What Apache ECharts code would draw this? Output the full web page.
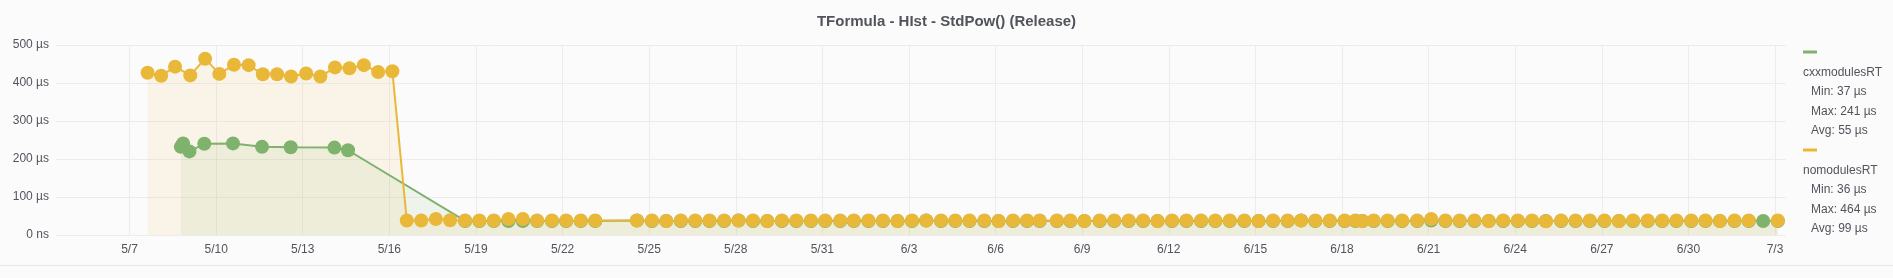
<!DOCTYPE html>
<html>
<head>
<meta charset="utf-8">
<script src="https://cdn.jsdelivr.net/npm/echarts@6/dist/echarts.min.js"></script>
<style>
  html, body { margin: 0; padding: 0; background: #fbfbfb; }
  #chart { width: 1893px; height: 278px; }
</style>
</head>
<body>
<div id="chart"></div>
<script>
// tick labels on the x axis (every 3 days)
var tickLabels = ['5/7', '5/10', '5/13', '5/16', '5/19', '5/22', '5/25', '5/28', '5/31', '6/3', '6/6', '6/9',
  '6/12', '6/15', '6/18', '6/21', '6/24', '6/27', '6/30', '7/3'];

// cxxmodulesRT
var cxxTimes = [
  '5/8 18:40', '5/8 20:30', '5/9 01:50', '5/9 14:10', '5/10 14:00', '5/11 14:10', '5/12 14:00', '5/14 02:20', '5/14 13:40',
  '5/18 15:00', '5/19 02:50', '5/19 14:50', '5/20 03:00', '5/20 15:00', '5/21 02:50', '5/21 15:10', '5/22 03:00', '5/22 15:10', '5/23 03:10',
  '5/24 13:50', '5/25 02:20', '5/25 14:10', '5/26 02:20', '5/26 14:20', '5/27 02:10', '5/27 14:20', '5/28 02:20', '5/28 14:20', '5/29 02:10', '5/29 14:20', '5/30 02:20', '5/30 14:30', '5/31 02:20', '5/31 14:50',
  '6/1 02:10', '6/1 14:20', '6/2 02:20', '6/2 14:30', '6/3 02:30', '6/3 14:20', '6/4 02:40', '6/4 14:30', '6/5 02:20', '6/5 14:40', '6/6 02:30', '6/6 14:30', '6/7 02:10', '6/7 12:40', '6/8 03:00', '6/8 14:10', '6/9 01:50',
  '6/9 14:30', '6/10 02:40', '6/10 14:40', '6/11 02:40', '6/11 14:40', '6/12 02:40', '6/12 14:40', '6/13 02:50', '6/13 14:40', '6/14 02:40', '6/14 14:50', '6/15 02:40', '6/15 14:40', '6/16 02:50', '6/16 14:00', '6/17 01:50',
  '6/17 13:50', '6/18 02:10', '6/18 11:10', '6/18 17:00', '6/19 02:20', '6/19 14:00', '6/20 02:00', '6/20 14:30', '6/21 02:10', '6/21 14:00', '6/22 01:50', '6/22 14:10', '6/23 02:00', '6/23 14:00', '6/24 02:10', '6/24 14:00', '6/25 01:30',
  '6/25 14:10', '6/26 02:10', '6/26 14:00', '6/27 02:10', '6/27 14:10', '6/28 02:00', '6/28 14:10', '6/29 02:10', '6/29 14:00', '6/30 02:20', '6/30 14:10', '7/1 02:10', '7/1 14:20', '7/2 02:10', '7/2 14:10', '7/3 02:20'
];
var cxxValues = [
  232, 241, 220, 240, 241, 232, 231, 230, 223,
  37, 37, 37, 37, 37, 37, 37, 37, 37, 37,
  38, 37, 37, 37, 37, 37, 37, 38, 37, 37, 37, 37, 37, 37, 37,
  37, 37, 37, 37, 37, 38, 37, 37, 37, 37, 37, 37, 37, 37, 37, 37, 37,
  37, 37, 37, 37, 37, 37, 37, 37, 37, 37, 37, 37, 37, 37, 38, 37,
  37, 37, 37, 37, 37, 37, 37, 37, 38, 37, 37, 37, 37, 37, 37, 37, 37,
  37, 37, 37, 37, 37, 37, 37, 37, 37, 37, 37, 37, 37, 37, 37, 37
];

// nomodulesRT
var nomodTimes = [
  '5/7 15:00', '5/8 02:20', '5/8 13:50', '5/9 02:30', '5/9 14:50', '5/10 02:40', '5/10 14:50', '5/11 03:00', '5/11 14:50',
  '5/12 02:40', '5/12 14:20', '5/13 02:50', '5/13 14:40', '5/14 02:50', '5/14 14:50', '5/15 02:50', '5/15 14:40', '5/16 02:30',
  '5/16 14:30', '5/17 02:30', '5/17 14:40', '5/18 02:30', '5/18 15:00', '5/19 02:50', '5/19 14:50', '5/20 03:00', '5/20 15:00', '5/21 02:50', '5/21 15:10', '5/22 03:00', '5/22 15:10', '5/23 03:10',
  '5/24 13:50', '5/25 02:20', '5/25 14:10', '5/26 02:20', '5/26 14:20', '5/27 02:10', '5/27 14:20', '5/28 02:20', '5/28 14:20', '5/29 02:10', '5/29 14:20', '5/30 02:20', '5/30 14:30', '5/31 02:20', '5/31 14:50',
  '6/1 02:10', '6/1 14:20', '6/2 02:20', '6/2 14:30', '6/3 02:30', '6/3 14:20', '6/4 02:40', '6/4 14:30', '6/5 02:20', '6/5 14:40', '6/6 02:30', '6/6 14:30', '6/7 02:10', '6/7 12:40', '6/8 03:00', '6/8 14:10', '6/9 01:50',
  '6/9 14:30', '6/10 02:40', '6/10 14:40', '6/11 02:40', '6/11 14:40', '6/12 02:40', '6/12 14:40', '6/13 02:50', '6/13 14:40', '6/14 02:40', '6/14 14:50', '6/15 02:40', '6/15 14:40', '6/16 02:50', '6/16 14:00', '6/17 01:50',
  '6/17 13:50', '6/18 02:10', '6/18 11:10', '6/18 17:00', '6/19 02:20', '6/19 14:00', '6/20 02:00', '6/20 14:30', '6/21 02:10', '6/21 14:00', '6/22 01:50', '6/22 14:10', '6/23 02:00', '6/23 14:00', '6/24 02:10', '6/24 14:00', '6/25 01:30',
  '6/25 14:10', '6/26 02:10', '6/26 14:00', '6/27 02:10', '6/27 14:10', '6/28 02:00', '6/28 14:10', '6/29 02:10', '6/29 14:00', '6/30 02:20', '6/30 14:10', '7/1 02:10', '7/1 14:20', '7/2 02:10', '7/3 02:20'
];
var nomodValues = [
  427, 419, 443, 420, 464, 424, 448, 447, 423,
  423, 417, 425, 417, 441, 439, 447, 429, 431,
  38, 38, 42, 39, 38, 38, 38, 42, 42, 38, 38, 38, 38, 38,
  38, 38, 37, 38, 38, 38, 38, 38, 38, 37, 38, 38, 38, 38, 38,
  38, 38, 38, 37, 38, 38, 38, 38, 38, 38, 37, 38, 38, 38, 38, 38, 37,
  38, 38, 38, 38, 37, 38, 38, 38, 38, 38, 38, 37, 38, 38, 38, 38,
  38, 38, 38, 37, 38, 38, 38, 38, 42, 38, 38, 38, 37, 38, 38, 38, 36,
  38, 38, 38, 38, 37, 38, 38, 38, 38, 38, 38, 37, 38, 38, 38
];

var legendLines = [
  ['cxxmodulesRT', 'Min: 37 µs', 'Max: 241 µs', 'Avg: 55 µs'],
  ['nomodulesRT', 'Min: 36 µs', 'Max: 464 µs', 'Avg: 99 µs']
];

// days since 5/1 00:00
var monthStart = { 5: 0, 6: 31, 7: 61 };
function toDay(s) {
  var p = s.split(' ');
  var md = p[0].split('/');
  var d = monthStart[+md[0]] + (+md[1]) - 1;
  if (p[1]) {
    var hm = p[1].split(':');
    d += (+hm[0] + (+hm[1]) / 60) / 24;
  }
  return d;
}
function pairs(times, values) {
  return times.map(function (t, i) { return [toDay(t), values[i]]; });
}

var tickVals = tickLabels.map(toDay);
var labelFor = {};
tickLabels.forEach(function (l, i) { labelFor[tickVals[i]] = l; });

var green = '#7EB26D', yellow = '#EAB839', txt = '#52545c';
var font = 'Liberation Sans, Arial, sans-serif';

var legendGraphic = [];
var ly = [52, 150];
legendLines.forEach(function (lines, k) {
  legendGraphic.push({
    type: 'rect', shape: { x: 1803, y: ly[k] - 1.5, width: 14, height: 3 },
    style: { fill: k === 0 ? green : yellow }
  });
  lines.forEach(function (s, j) {
    legendGraphic.push({
      type: 'text', x: j === 0 ? 1803 : 1811, y: ly[k] + 20.5 + j * 19.5,
      style: { text: s, fill: txt, font: '12px ' + font, textVerticalAlign: 'middle' }
    });
  });
});
legendGraphic.push({
  type: 'line', shape: { x1: 0, y1: 265.5, x2: 1893, y2: 265.5 },
  style: { stroke: '#e6e6e6', lineWidth: 1 }
});

var myChart = echarts.init(document.getElementById('chart'));
var option = {
  backgroundColor: '#fbfbfb',
  animation: false,
  title: {
    text: 'TFormula - HIst - StdPow() (Release)',
    left: 'center',
    top: 9,
    textStyle: { fontSize: 15, fontWeight: 'bold', color: txt, fontFamily: font }
  },
  grid: { left: 56, right: 107, top: 45, bottom: 43 },
  xAxis: {
    type: 'value',
    min: 3.453,
    max: 63.38,
    axisLine: { show: false },
    axisTick: { show: false, customValues: tickVals },
    axisLabel: {
      customValues: tickVals,
      formatter: function (v) { return labelFor[v] || ''; },
      color: txt, fontSize: 12, fontFamily: font, margin: 9
    },
    splitLine: { show: true, lineStyle: { color: '#ececec' } }
  },
  yAxis: {
    type: 'value',
    min: 0,
    max: 500,
    interval: 100,
    axisLine: { show: false },
    axisTick: { show: false },
    axisLabel: {
      formatter: function (v) { return v === 0 ? '0 ns' : v + ' µs'; },
      color: txt, fontSize: 12, fontFamily: font, margin: 7
    },
    splitLine: { lineStyle: { color: '#ececec' } }
  },
  series: [
    {
      name: 'cxxmodulesRT',
      type: 'line',
      data: pairs(cxxTimes, cxxValues),
      symbol: 'circle',
      symbolSize: 14,
      lineStyle: { width: 2, color: green },
      itemStyle: { color: green },
      areaStyle: { color: green, opacity: 0.1 }
    },
    {
      name: 'nomodulesRT',
      type: 'line',
      data: pairs(nomodTimes, nomodValues),
      symbol: 'circle',
      symbolSize: 14,
      lineStyle: { width: 2, color: yellow },
      itemStyle: { color: yellow },
      areaStyle: { color: yellow, opacity: 0.1 }
    }
  ],
  graphic: legendGraphic
};
myChart.setOption(option);
</script>
</body>
</html>
